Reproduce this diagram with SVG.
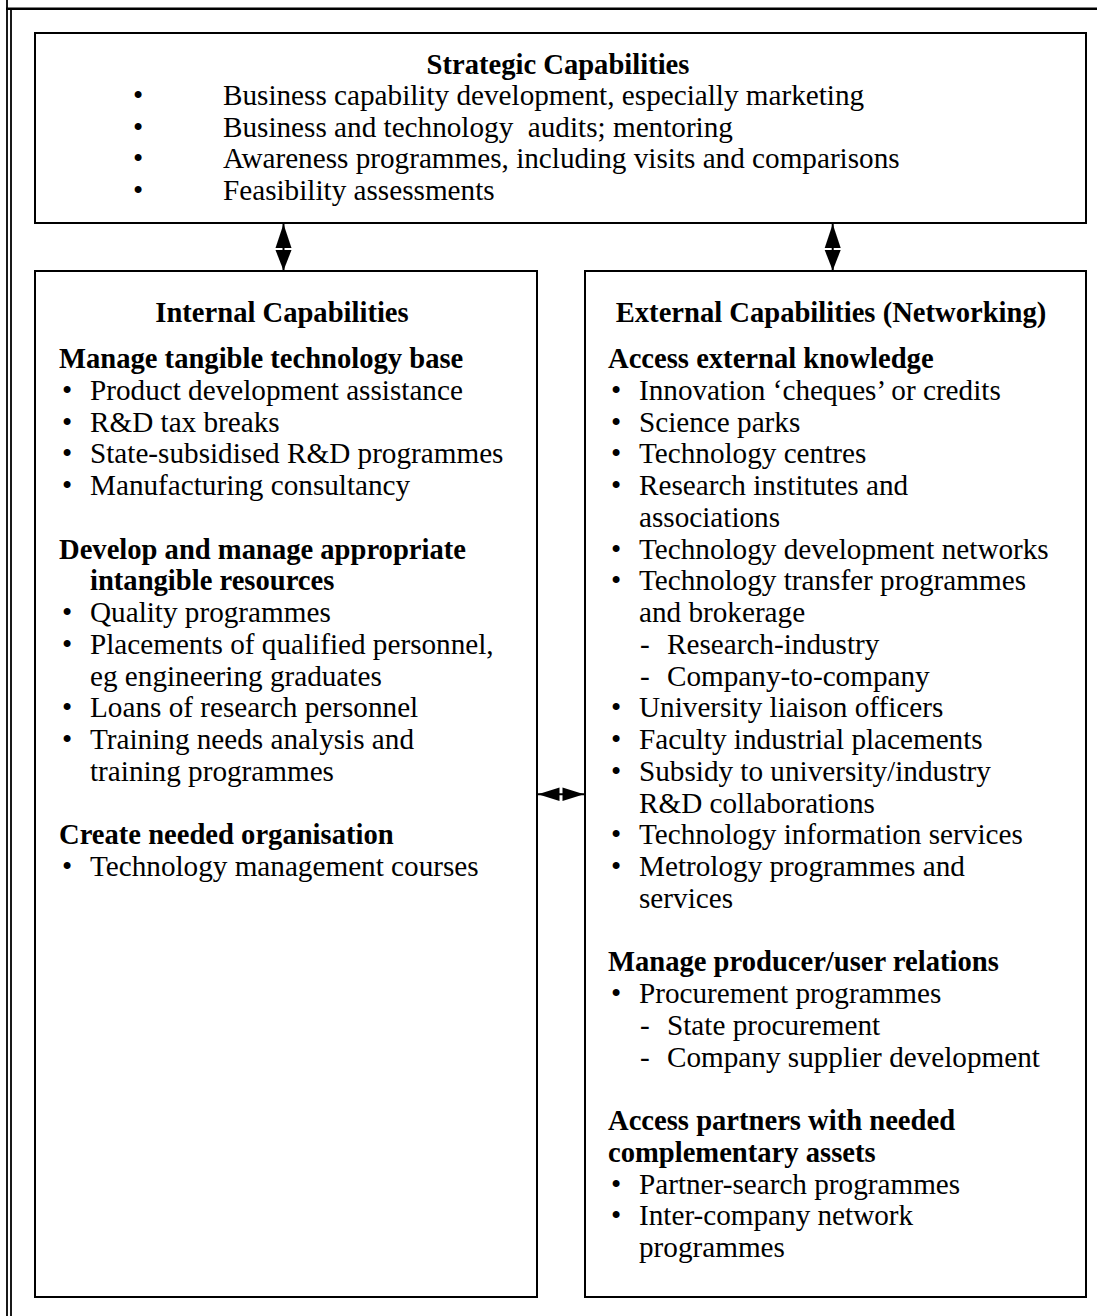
<svg xmlns="http://www.w3.org/2000/svg" width="1099" height="1316" viewBox="0 0 1099 1316">
<style>
.box{fill:#fff;stroke:#000;stroke-width:2}
.frame{fill:none;stroke:#000;stroke-width:1.8}
.t{font-family:"Liberation Serif","Times New Roman",serif;font-size:29.2px;fill:#000}
.b{font-weight:bold;font-size:28.6px}
.m{text-anchor:middle}
.conn line{stroke:#000;stroke-width:2}
.conn polygon{fill:#000}
</style>
<rect width="1099" height="1316" fill="#fff"/>
<g id="frame">
<line class="frame" x1="7" y1="0" x2="7" y2="1316"/>
<line class="frame" x1="11" y1="10" x2="11" y2="1316"/>
<line class="frame" x1="6" y1="8.7" x2="1097" y2="8.7" style="stroke-width:2.4"/>
</g>
<g id="strategic">
<rect class="box" x="35" y="33" width="1051" height="190"/>
<text class="t b m" x="558" y="74.3">Strategic Capabilities</text>
<text class="t m" x="138" y="105">•</text>
<text class="t" x="223" y="105">Business capability development, especially marketing</text>
<text class="t m" x="138" y="136.7">•</text>
<text class="t" x="223" y="136.7" xml:space="preserve">Business and technology  audits; mentoring</text>
<text class="t m" x="138" y="168.3">•</text>
<text class="t" x="223" y="168.3">Awareness programmes, including visits and comparisons</text>
<text class="t m" x="138" y="200">•</text>
<text class="t" x="223" y="200">Feasibility assessments</text>
</g>
<g id="internal">
<rect class="box" x="35" y="271" width="502" height="1026"/>
<text class="t b m" x="282" y="321.7">Internal Capabilities</text>
<text class="t b" x="59" y="368">Manage tangible technology base</text>
<text class="t m" x="67" y="399.75">•</text><text class="t" x="90" y="399.75">Product development assistance</text>
<text class="t m" x="67" y="431.5">•</text><text class="t" x="90" y="431.5">R&amp;D tax breaks</text>
<text class="t m" x="67" y="463.25">•</text><text class="t" x="90" y="463.25">State-subsidised R&amp;D programmes</text>
<text class="t m" x="67" y="495">•</text><text class="t" x="90" y="495">Manufacturing consultancy</text>
<text class="t b" x="59" y="558.5">Develop and manage appropriate</text>
<text class="t b" x="90" y="590.25">intangible resources</text>
<text class="t m" x="67" y="622">•</text><text class="t" x="90" y="622">Quality programmes</text>
<text class="t m" x="67" y="653.75">•</text><text class="t" x="90" y="653.75">Placements of qualified personnel,</text>
<text class="t" x="90" y="685.5">eg engineering graduates</text>
<text class="t m" x="67" y="717.25">•</text><text class="t" x="90" y="717.25">Loans of research personnel</text>
<text class="t m" x="67" y="749">•</text><text class="t" x="90" y="749">Training needs analysis and</text>
<text class="t" x="90" y="780.75">training programmes</text>
<text class="t b" x="59" y="844.25">Create needed organisation</text>
<text class="t m" x="67" y="876">•</text><text class="t" x="90" y="876">Technology management courses</text>
</g>
<g id="external">
<rect class="box" x="585" y="271" width="501" height="1026"/>
<text class="t b m" x="831" y="321.7">External Capabilities (Networking)</text>
<text class="t b" x="608" y="368">Access external knowledge</text>
<text class="t m" x="616" y="399.75">•</text><text class="t" x="639" y="399.75">Innovation ‘cheques’ or credits</text>
<text class="t m" x="616" y="431.5">•</text><text class="t" x="639" y="431.5">Science parks</text>
<text class="t m" x="616" y="463.25">•</text><text class="t" x="639" y="463.25">Technology centres</text>
<text class="t m" x="616" y="495">•</text><text class="t" x="639" y="495">Research institutes and</text>
<text class="t" x="639" y="526.75">associations</text>
<text class="t m" x="616" y="558.5">•</text><text class="t" x="639" y="558.5">Technology development networks</text>
<text class="t m" x="616" y="590.25">•</text><text class="t" x="639" y="590.25">Technology transfer programmes</text>
<text class="t" x="639" y="622">and brokerage</text>
<text class="t" x="640" y="653.75">-</text><text class="t" x="667" y="653.75">Research-industry</text>
<text class="t" x="640" y="685.5">-</text><text class="t" x="667" y="685.5">Company-to-company</text>
<text class="t m" x="616" y="717.25">•</text><text class="t" x="639" y="717.25">University liaison officers</text>
<text class="t m" x="616" y="749">•</text><text class="t" x="639" y="749">Faculty industrial placements</text>
<text class="t m" x="616" y="780.75">•</text><text class="t" x="639" y="780.75">Subsidy to university/industry</text>
<text class="t" x="639" y="812.5">R&amp;D collaborations</text>
<text class="t m" x="616" y="844.25">•</text><text class="t" x="639" y="844.25">Technology information services</text>
<text class="t m" x="616" y="876">•</text><text class="t" x="639" y="876">Metrology programmes and</text>
<text class="t" x="639" y="907.75">services</text>
<text class="t b" x="608" y="971.25">Manage producer/user relations</text>
<text class="t m" x="616" y="1003">•</text><text class="t" x="639" y="1003">Procurement programmes</text>
<text class="t" x="640" y="1034.75">-</text><text class="t" x="667" y="1034.75">State procurement</text>
<text class="t" x="640" y="1066.5">-</text><text class="t" x="667" y="1066.5">Company supplier development</text>
<text class="t b" x="608" y="1130">Access partners with needed</text>
<text class="t b" x="608" y="1161.75">complementary assets</text>
<text class="t m" x="616" y="1193.5">•</text><text class="t" x="639" y="1193.5">Partner-search programmes</text>
<text class="t m" x="616" y="1225.25">•</text><text class="t" x="639" y="1225.25">Inter-company network</text>
<text class="t" x="639" y="1257">programmes</text>
</g>
<g id="connectors" class="conn">
<line x1="283.5" y1="224" x2="283.5" y2="270"/>
<polygon points="283.5,224 275.5,248 291.5,248"/>
<polygon points="283.5,270.5 275.5,250 291.5,250"/>
<line x1="832.7" y1="224" x2="832.7" y2="270"/>
<polygon points="832.7,224 824.7,248 840.7,248"/>
<polygon points="832.7,270.5 824.7,250 840.7,250"/>
<line x1="538" y1="794.3" x2="584" y2="794.3"/>
<polygon points="538,794.3 559.5,787.6 559.5,801"/>
<polygon points="584,794.3 562.5,787.6 562.5,801"/>
</g>
</svg>
